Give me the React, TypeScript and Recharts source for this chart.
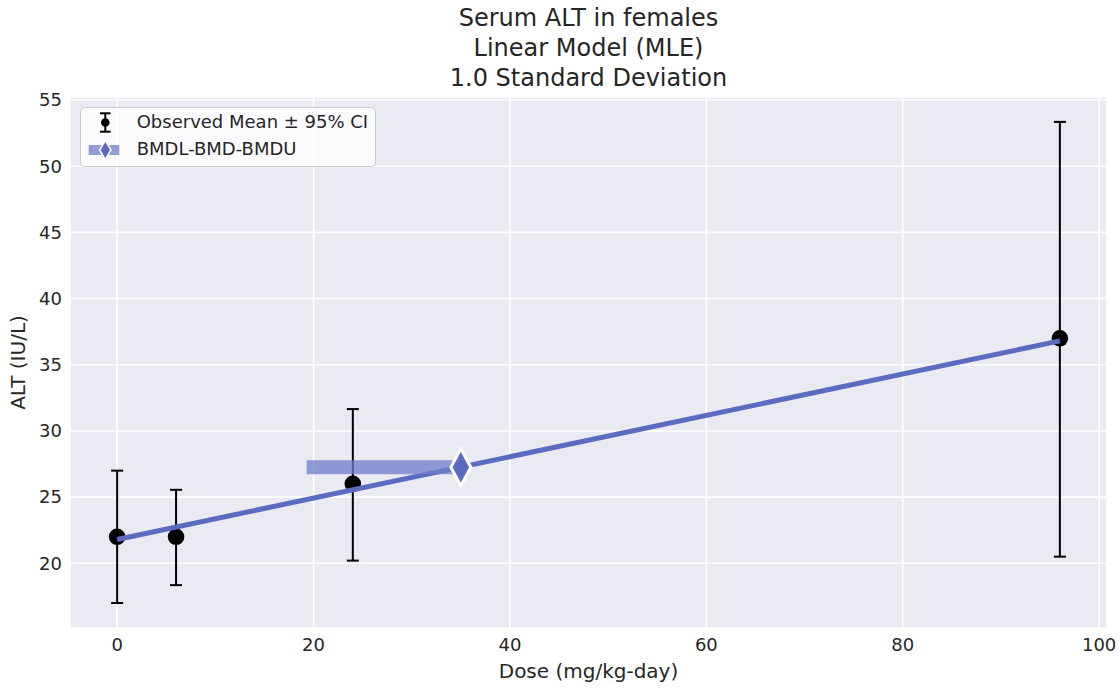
import React from 'react';
import {
  ComposedChart,
  Scatter,
  ErrorBar,
  XAxis,
  YAxis,
  CartesianGrid,
  Label
} from 'recharts';

// observed dose groups
const doses = [0, 6, 24, 96];
const means = [22, 22, 26, 37];
const ciLower = [17.0, 18.35, 20.2, 20.5];
const ciUpper = [27.0, 25.55, 31.65, 53.35];

// fitted linear model
const modelDoses = [0, 96];
const modelResponse = [21.8, 36.8];

// benchmark dose
const bmdl = 19.3;
const bmd = 35.0;
const bmdResponse = 27.25;

const xTicks = [0, 20, 40, 60, 80, 100];
const yTicks = [20, 25, 30, 35, 40, 45, 50, 55];

const observed = doses.map((d, i) => ({
  dose: d,
  alt: means[i],
  ci: [means[i] - ciLower[i], ciUpper[i] - means[i]]
}));
const model = modelDoses.map((d, i) => ({ dose: d, alt: modelResponse[i] }));
const bmdBar = [bmdl, bmd].map(d => ({ dose: d, alt: bmdResponse }));
const bmdPoint = [{ dose: bmd, alt: bmdResponse }];

const FONT = '"DejaVu Sans", sans-serif';
const TEXT = '#262626';
const LINE = '#5b6bc0';
const BAR = '#6f7cc9';

const Dot = (p: any) => <circle cx={p.cx} cy={p.cy} r={8.3} fill="#000" />;
const NoDot = () => <g />;

const Diamond = (p: any) => (
  <polygon
    points={`${p.cx},${p.cy - 18.5} ${p.cx + 10},${p.cy} ${p.cx},${p.cy + 18.5} ${p.cx - 10},${p.cy}`}
    fill={LINE}
    stroke="#fff"
    strokeWidth={3}
  />
);

const LegendBox = () => (
  <svg width={298} height={62} style={{ position: 'absolute', left: 79, top: 106 }}>
    <rect x={1.5} y={1.5} width={295} height={59} rx={4} fill="#fff" fillOpacity={0.8} stroke="#cccccc" />
    <g stroke="#000" strokeWidth={2}>
      <line x1={26.3} y1={7.3} x2={26.3} y2={25.7} />
      <line x1={21} y1={7.3} x2={31.6} y2={7.3} />
      <line x1={21} y1={25.7} x2={31.6} y2={25.7} />
    </g>
    <circle cx={26.3} cy={16.5} r={4.3} fill="#000" />
    <rect x={9.7} y={39} width={30.6} height={10} fill={BAR} fillOpacity={0.75} />
    <polygon points="26.3,34.5 32,44 26.3,53.5 20.6,44" fill={LINE} stroke="#fff" strokeWidth={1.5} />
    <text x={57.7} y={22.3} fontSize={18} fill={TEXT} fontFamily={FONT}>Observed Mean ± 95% CI</text>
    <text x={57.7} y={49} fontSize={18} fill={TEXT} fontFamily={FONT}>BMDL-BMD-BMDU</text>
  </svg>
);

export default function App() {
  return (
    <div style={{ position: 'absolute', left: 0, top: 0, width: 1120, height: 688, background: '#fff', fontFamily: FONT }}>
      <div
        style={{
          position: 'absolute',
          left: 70,
          top: 3,
          width: 1037,
          textAlign: 'center',
          fontSize: 24,
          lineHeight: '30px',
          color: TEXT
        }}
      >
        Serum ALT in females
        <br />
        Linear Model (MLE)
        <br />
        1.0 Standard Deviation
      </div>
      <ComposedChart
        width={1120}
        height={688}
        margin={{ top: 97, right: 13, bottom: 0, left: 20 }}
        style={{ position: 'absolute', left: 0, top: 0 }}
      >
        <CartesianGrid fill="#eaeaf2" stroke="#ffffff" strokeWidth={1.6} />
        <XAxis
          type="number"
          dataKey="dose"
          domain={[-4.8, 100.8]}
          ticks={xTicks}
          allowDataOverflow
          axisLine={false}
          tickLine={false}
          tickSize={0}
          tickMargin={10}
          height={60}
          tick={{ fill: TEXT, fontSize: 18, fontFamily: FONT }}
        >
          <Label value="Dose (mg/kg-day)" position="insideBottom" offset={10} fill={TEXT} fontSize={20} fontFamily={FONT} />
        </XAxis>
        <YAxis
          type="number"
          dataKey="alt"
          domain={[15.11, 55.23]}
          ticks={yTicks}
          allowDataOverflow
          axisLine={false}
          tickLine={false}
          tickSize={0}
          tickMargin={8}
          width={50}
          tick={{ fill: TEXT, fontSize: 18, fontFamily: FONT }}
        >
          <Label
            value="ALT (IU/L)"
            angle={-90}
            position="insideLeft"
            offset={-2}
            fill={TEXT}
            fontSize={20}
            fontFamily={FONT}
            style={{ textAnchor: 'middle' }}
          />
        </YAxis>
        <Scatter data={observed} shape={Dot} isAnimationActive={false}>
          <ErrorBar dataKey="ci" direction="y" width={6} stroke="#000" strokeWidth={2} />
        </Scatter>
        <Scatter
          data={model}
          shape={NoDot}
          line={{ stroke: LINE, strokeWidth: 5 }}
          lineType="joint"
          isAnimationActive={false}
        />
        <Scatter
          data={bmdBar}
          shape={NoDot}
          line={{ stroke: BAR, strokeWidth: 14, strokeOpacity: 0.75 }}
          lineType="joint"
          isAnimationActive={false}
        />
        <Scatter data={bmdPoint} shape={Diamond} isAnimationActive={false} />
      </ComposedChart>
      <LegendBox />
    </div>
  );
}
